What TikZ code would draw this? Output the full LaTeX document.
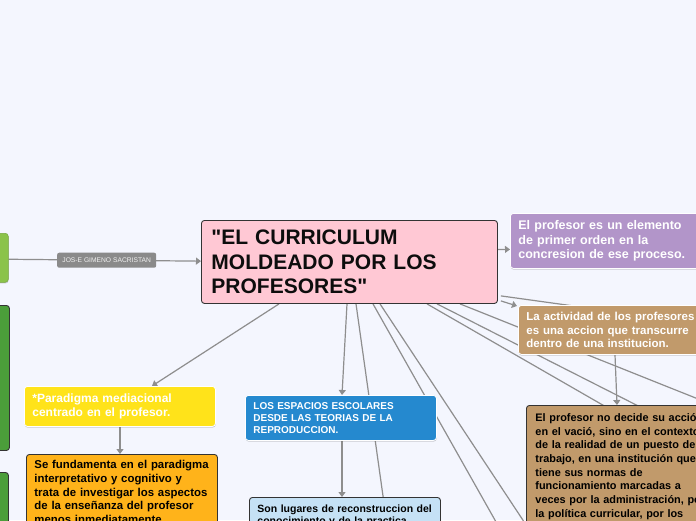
\documentclass[tikz,border=0pt]{standalone}
\usepackage{fontspec}
\setmainfont{Liberation Sans}[Ligatures=TeXOff]
\usetikzlibrary{arrows.meta,shadows}
\definecolor{bgc}{HTML}{F4F6FE}
\definecolor{edgec}{HTML}{8E8E8E}
\definecolor{pinkc}{HTML}{FFC8D4}
\definecolor{purplec}{HTML}{B295C9}
\definecolor{tanc}{HTML}{C19A6B}
\definecolor{yellowc}{HTML}{FFE31A}
\definecolor{orangec}{HTML}{FFB31A}
\definecolor{bluec}{HTML}{2589CF}
\definecolor{lbluec}{HTML}{C5E1F5}
\definecolor{lgreenc}{HTML}{8BC34A}
\definecolor{dgreenc}{HTML}{4B9E3A}
\definecolor{labelc}{HTML}{8A8A8A}
\definecolor{borderc}{HTML}{333333}
\pgfdeclarelayer{edges}
\pgfsetlayers{edges,main}
\tikzset{
  basebox/.style={rectangle, rounded corners=3pt, anchor=north west, align=left, inner xsep=8pt},
  lightbox/.style={basebox, draw=white, line width=0.8pt,
    drop shadow={shadow xshift=0.3pt, shadow yshift=-1.2pt, opacity=0.3, fill=black!60}},
  darkbox/.style={basebox, draw=borderc, line width=0.9pt},
  edge/.style={draw=edgec, line width=1.2pt},
  arrowedge/.style={edge, -{Triangle[length=5pt,width=7pt]}},
  edgelabel/.style={fill=labelc, rounded corners=2pt, text=white!94!black, inner sep=0pt,
    minimum width=99pt, minimum height=15pt, font=\fontsize{6.7pt}{8pt}\selectfont},
}
\begin{document}
\begin{tikzpicture}[x=1pt,y=-1pt]
\useasboundingbox (0,0) rectangle (696,520);
\begin{pgfonlayer}{edges}
\fill[bgc] (0,0) rectangle (696,520);
\end{pgfonlayer}

% left boxes (cut off)
\node[lightbox, fill=lgreenc, draw=lgreenc!85!black, line width=0.5pt, minimum width=60pt, minimum height=49pt] (gl) at (-52,233) {};
\node[darkbox, fill=dgreenc, minimum width=60pt, minimum height=145pt] (dg1) at (-51,305) {};
\node[darkbox, fill=dgreenc, minimum width=60pt, minimum height=70pt] (dg2) at (-52,472) {};

% central
\node[darkbox, fill=pinkc, minimum width=296pt, minimum height=83pt, text width=276pt, inner xsep=10pt,
  text=black!95, font={\bfseries\fontsize{21pt}{24.5pt}\selectfont}] (c) at (201,220)
  {"EL CURRICULUM\\MOLDEADO POR LOS\\PROFESORES"};

% right
\node[lightbox, fill=purplec, minimum width=200pt, minimum height=55pt, text width=184pt, text=white,
  font={\bfseries\fontsize{12.5pt}{14.5pt}\selectfont}] (p) at (510,213)
  {El profesor es un elemento\\de primer orden en la\\concresion de ese proceso.};
\node[lightbox, fill=tanc, minimum width=200pt, minimum height=49pt, text width=184pt, text=white,
  font={\bfseries\fontsize{11.5pt}{13.5pt}\selectfont}] (ta) at (518,305)
  {La actividad de los profesores\\es una accion que transcurre\\dentro de una institucion.};
\node[darkbox, fill=tanc, minimum width=220pt, text width=202pt, inner xsep=9pt, inner ysep=8pt, text=black,
  font={\bfseries\fontsize{10.9pt}{13.7pt}\selectfont}] (tb) at (526,405)
  {El profesor no decide su acción\\en el vació, sino en el contexto\\de la realidad de un puesto de\\trabajo, en una institución que\\tiene sus normas de\\funcionamiento marcadas a\\veces por la administración, por\\la política curricular, por los\\órganos de gobierno de un};

% bottom left
\node[lightbox, fill=yellowc, minimum width=191pt, minimum height=40pt, text width=175pt, text=white,
  font={\bfseries\fontsize{12pt}{14.3pt}\selectfont}] (y) at (24,386)
  {*Paradigma mediacional\\centrado en el profesor.};
\node[darkbox, fill=orangec, minimum width=191pt, text width=181pt, inner xsep=5pt, inner ysep=6pt, text=black,
  font={\bfseries\fontsize{11.4pt}{13.7pt}\selectfont}] (o) at (26,454)
  {\hspace*{3pt}Se fundamenta en el paradigma\\\hspace*{3pt}interpretativo y cognitivo y\\\hspace*{3pt}trata de investigar los aspectos\\\hspace*{3pt}de la enseñanza del profesor\\\hspace*{3pt}menos inmediatamente};

% bottom middle
\node[lightbox, fill=bluec, minimum width=191pt, minimum height=45pt, text width=175pt, text=white,
  font={\bfseries\fontsize{10pt}{11.7pt}\selectfont}] (b) at (245,395)
  {LOS ESPACIOS ESCOLARES\\DESDE LAS TEORIAS DE LA\\REPRODUCCION.};
\node[darkbox, fill=lbluec, minimum width=191pt, text width=181pt, inner xsep=5pt, inner ysep=7pt, text=black,
  font={\bfseries\fontsize{10.5pt}{12.5pt}\selectfont}] (lb) at (249,497)
  {\hspace*{3pt}Son lugares de reconstruccion del\\\hspace*{3pt}conocimiento y de la practica};

% free ends of connectors leaving the picture
\coordinate (off1) at (740,329);
\coordinate (off2) at (392,560);
\coordinate (off3) at (517.5,560);
\coordinate (off4) at (549.3,560);
\coordinate (off5) at (740,484);
\coordinate (off6) at (740,457.6);
\coordinate (off7) at (740,415.7);

\begin{pgfonlayer}{edges}
\draw[arrowedge] ([yshift=-1.5pt]gl.east) -- ([yshift=0.8pt]c.west)
  node[edgelabel, pos=0.51] (lab) {JOS-E GIMENO SACRISTAN};
\draw[arrowedge] ([yshift=12.5pt]c.east) -- ([yshift=-8.5pt]p.west);
\draw[arrowedge] ([xshift=3pt,yshift=3pt]c.south east) -- ([xshift=-1pt,yshift=-1pt]ta.north west);
\draw[edge] ([xshift=3pt,yshift=8pt]c.south east) -- (off1);
\draw[arrowedge] ([xshift=78pt]c.south west) -- ([xshift=128pt]y.north west);
\draw[arrowedge] ([xshift=146pt]c.south west) -- ([xshift=97pt]b.north west);
\draw[edge] ([xshift=155pt]c.south west) -- (off2);
\draw[edge] ([xshift=172pt]c.south west) -- (off3);
\draw[edge] ([xshift=179pt]c.south west) -- (off4);
\draw[edge] ([xshift=226pt]c.south west) -- (off5);
\draw[edge] ([xshift=236pt]c.south west) -- (off6);
\draw[edge] ([xshift=259pt]c.south west) -- (off7);
\draw[arrowedge] ([xshift=96pt]y.south west) -- ([xshift=94pt]o.north west);
\draw[arrowedge] ([xshift=97pt]b.south west) -- ([xshift=93pt]lb.north west);
\draw[arrowedge] ([xshift=97pt]ta.south west) -- ([xshift=91pt]tb.north west);
\end{pgfonlayer}
\end{tikzpicture}
\end{document}
